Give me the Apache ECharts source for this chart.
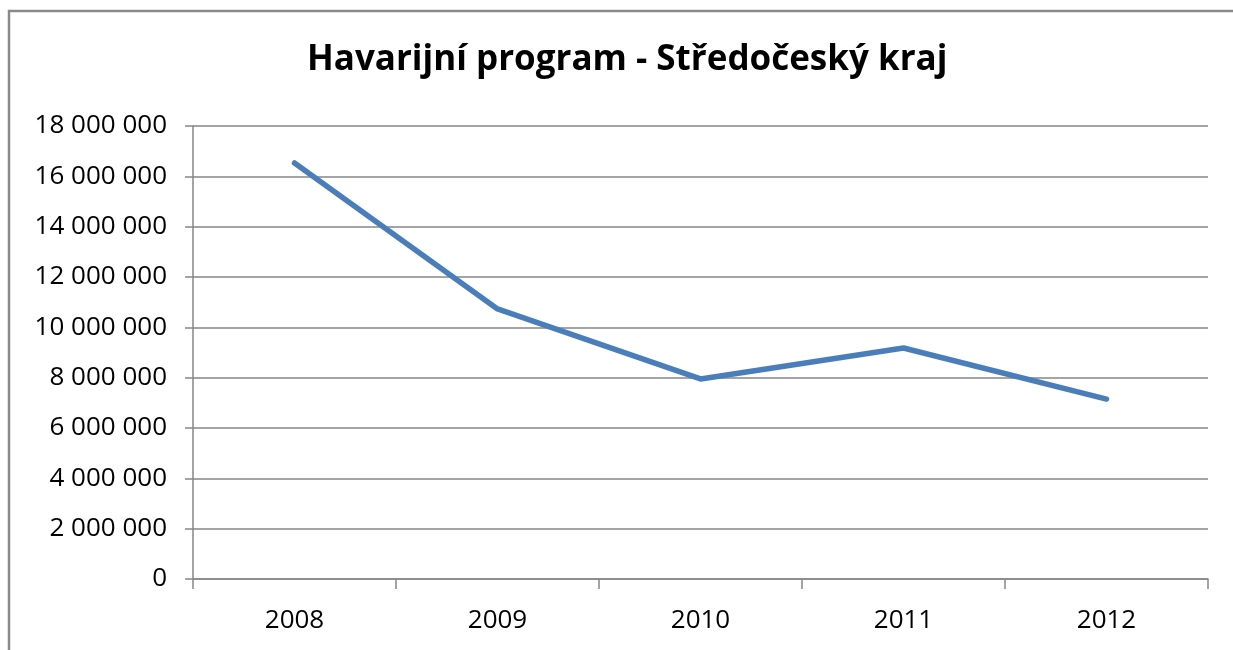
<!DOCTYPE html>
<html>
<head>
<meta charset="utf-8">
<script src="https://cdn.jsdelivr.net/npm/echarts@6/dist/echarts.min.js"></script>
<style>
html,body{margin:0;padding:0;background:#fff;}
#main{width:1233px;height:650px;}
</style>
</head>
<body>
<div id="main"></div>
<script>
const titleText = 'Havarijní program - Středočeský kraj';
const categories = ['2008', '2009', '2010', '2011', '2012'];
const values = [16530000, 10730000, 7950000, 9180000, 7150000];
const yMin = 0, yMax = 18000000, yStep = 2000000;

function fmt(v) {
  return String(Math.round(v)).replace(/\B(?=(\d{3})+(?!\d))/g, ' ');
}

const chart = echarts.init(document.getElementById('main'), null, {renderer: 'canvas'});
const fontFam = '"Open Sans", "Noto Sans", sans-serif';
chart.setOption({
  animation: false,
  backgroundColor: '#ffffff',
  graphic: [{
    type: 'polyline',
    shape: {points: [[9, 700], [9, 11], [1240, 11]]},
    style: {stroke: '#8a8a8a', lineWidth: 2.5, fill: null},
    silent: true
  }],
  title: {
    text: titleText,
    left: 302,
    top: 38,
    textStyle: {fontFamily: fontFam, fontWeight: 'bold', fontSize: 35, color: '#000'}
  },
  grid: {left: 193, right: 25, top: 126, bottom: 71},
  xAxis: {
    type: 'category',
    data: categories,
    boundaryGap: true,
    axisLine: {lineStyle: {color: '#868686', width: 1.5}},
    axisTick: {show: true, length: 10, lineStyle: {color: '#868686', width: 1.5}},
    axisLabel: {margin: 29, color: '#000', fontFamily: fontFam, fontSize: 26}
  },
  yAxis: {
    type: 'value',
    min: yMin, max: yMax, interval: yStep,
    axisLine: {show: true, lineStyle: {color: '#868686', width: 1.5}},
    axisTick: {show: true, length: 8, lineStyle: {color: '#868686', width: 1.5}},
    splitLine: {lineStyle: {color: '#868686', width: 1.5}},
    axisLabel: {margin: 26, color: '#000', fontFamily: fontFam, fontSize: 26, formatter: fmt}
  },
  series: [{
    type: 'line',
    data: values,
    symbol: 'none',
    lineStyle: {color: '#4a7ebb', width: 5.5, cap: 'round', join: 'round'}
  }]
});
</script>
</body>
</html>
